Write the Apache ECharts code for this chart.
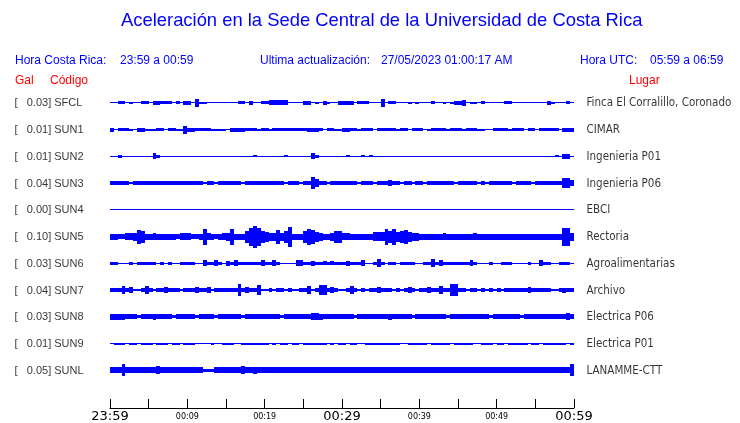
<!DOCTYPE html>
<html>
<head>
<meta charset="utf-8">
<script src="https://cdn.jsdelivr.net/npm/echarts@6/dist/echarts.min.js"></script>
<style>html,body{margin:0;padding:0;background:#fff;}#c{width:740px;height:423px;}</style>
</head>
<body>
<div id="c"></div>
<script>
// ---------------- DATA ----------------
const titleText = 'Aceleración en la Sede Central de la Universidad de Costa Rica';
const horaCR = '23:59 a 00:59';
const horaUTC = '05:59 a 06:59';
const updated = '27/05/2023 01:00:17 AM';

const codes = ['SFCL','SUN1','SUN2','SUN3','SUN4','SUN5','SUN6','SUN7','SUN8','SUN9','SUNL'];
const gals  = [0.03, 0.01, 0.01, 0.04, 0.00, 0.10, 0.03, 0.04, 0.03, 0.01, 0.05];
const places = ['Finca El Corralillo, Coronado','CIMAR','Ingenieria P01','Ingenieria P06','EBCI','Rectoria',
                'Agroalimentarias','Archivo','Electrica P06','Electrica P01','LANAMME-CTT'];

// time axis: minutes since 23:59, ticks every 5 minutes
const tickLabels = ['23:59','','00:09','','00:19','','00:29','','00:39','','00:49','','00:59'];
const bigTickLabels = ['23:59','00:29','00:59'];

// envelope half-amplitude (px) of each trace, in 30-second bins (120 bins = 60 min)
const envSFCL = [0,0,1.5,1.5,0,1,0,0,1.5,1.5, 0,2,2,1.5,1.5,1.5,0,1.5,0,2, 2,0,4,1,1,0,0,0,0,0,
  0,0,0,1.5,1.5,0,2,0,0,1.5, 1.5,2.5,2.5,2.5,2.5,2.5,0,0,0,0, 2,2,0,1,0,2,1,0,0,2,
  2,2,2,0,1.5,1.5,1.5,0,0,0, 4,0,1.5,1.5,0,0,0,1,0,1, 0,0,0,1.5,0,0,1,0,1,2,
  2,3,0,1,1,0,1.5,0,0,0, 0,0,1.5,1.5,0,0,0,0,0,0, 0,0,0,2,1,0,0,0,1.5,0];
const envSUN1 = [2,0,1.5,1.5,1.5,1,0,2,2,1, 1,1,1.5,1.5,0,1.5,1.5,1,1,4, 2,2,1.5,1.5,1.5,1.5,1,1,1,1,
  0,2,2,2,2,1.5,1.5,1.5,1,1.5, 1.5,1,1.5,1.5,1.5,1.5,1.5,1.5,1.5,1.5, 1.5,2,2,2,1.5,0,1.5,1.5,1,1,
  2,2,1.5,1.5,1,1.5,1.5,1.5,0,1.5, 1.5,1.5,1.5,1.5,1,1.5,1.5,0,1.5,1.5, 1.5,0,1,1.5,1.5,1.5,1.5,1,1.5,1.5,
  1.5,1,1.5,1.5,1.5,1,1,0,0,1.5, 1.5,1.5,1.5,1,1.5,1.5,1.5,0,1.5,1.5, 0,1.5,1.5,1.5,1.5,1.5,0,2,2,2];
const envSUN2 = [0,0,1.5,0,0,0,0,0,0,0, 0,3,1.5,0,0,0,0,0,0,0, 0,0,0,0,0,0,0,0,0,0,
  0,0,0,0,0,0,0,1,0,0, 0,0,0,0,0,1,0,0,0,0, 0,0,3,1.5,0,0,0,0,0,0,
  0,1,0,0,0,1,0,1,0,0, 0,0,0,0,0,0,0,0,0,0, 0,0,0,0,0,0,0,0,0,0,
  0,0,0,0,0,0,0,0,0,0, 0,0,0,0,0,0,0,0,0,0, 0,0,0,0,0,1,0,2.5,2.5,0];
const envSUN3 = [1.8,1.8,1.8,1.8,1.8,0.8,1.8,1.8,1.8,1.8, 1.8,1.8,1.8,1.8,1.8,1.8,1.8,1.8,1.8,1.8,
  1.8,1.8,1.8,1.8,0.8,1.8,1.8,0.8,1.8,1.8, 1.8,1.8,1.8,1.8,0.8,1.8,1.8,1.8,1.8,1.8,
  1.8,1.8,1.8,1.8,1.8,0.8,1.8,1.8,1.8,0.8, 1.8,1.8,6,4,1.8,1.8,0.8,1.8,1.8,1.8,
  1.8,1.8,1.8,1.8,0.8,1.8,1.8,1.8,0.8,1.8, 1.8,1.8,3,1.8,1.8,0.8,1.8,1.8,0.8,1.8,
  1.8,0.8,1.8,1.8,1.8,1.8,1.8,1.8,1.8,0.8, 1.8,1.8,1.8,1.8,1.8,0.8,1.8,0.8,1.8,1.8,
  1.8,1.8,1.8,1.8,0.8,1.8,1.8,1.8,1.8,0.8, 1.8,1.8,1.8,1.8,1.8,1.8,1.8,5,5,3];
const envSUN4 = [0,0,0,0,0,0,0,0,0,0, 0,0,0,0,0,0,0,0,0,0, 0,0,0,0,0,0,0,0,0,0,
  0,0,0,0,0,0,0,0,0,0, 0,0,0,0,0,0,0,0,0,0, 0,0,0,0,0,0,0,0,0,0,
  0,0,0,0,0,0,0,0,0,0, 0,0,0,0,0,0,0,0,0,0, 0,0,0,0,0,0,0,0,0,0,
  0,0,0,0,0,0,0,0,0,0, 0,0,0,0,0,0,0,0,0,0, 0,0,0,0,0,0,0,0,0,0];
const envSUN5 = [3,3,2.7,2.7,3.5,3.5,4,7,6,3, 3,3.5,3,3,3,3,3,2.7,3.5,3.5, 3.5,2.7,2.7,3,8,3.5,3,2.7,3,3.5,
  4,8,3,3,3,6,9,11,9,6, 5,4,4,7,4,6,10,3,3,3, 6,8,7,5,4,3,3,4,6,6,
  3.5,3.5,3,3,3,3,3,3,4.5,4.5, 4.5,8,6,8,5,6,7,5,4,4, 2.8,2.8,3,2.8,2.8,2.8,3.5,2.8,2.8,2.8,
  2.8,3,2.8,2.8,3.5,2.8,2.8,2.8,3,2.8, 2.8,2.8,3,2.8,2.8,3,2.8,2.8,3,2.8, 2.8,3,2.8,2.8,3,2.8,3,9,9,4];
const envSUN6 = [1.7,1.7,0.5,0.5,0.5,1.7,0.5,1.7,1.7,1.7, 1.7,1.7,0.5,1.7,0.5,1.7,0.5,0.5,1.7,1.7,
  1.7,1.7,0.5,0.5,3,1.7,1.7,3,1.7,0.5, 2.5,1.7,3,1.7,1.7,1.7,1.7,1.7,1.7,3,
  1.7,1.7,3,1.7,0.5,0.5,0.5,0.5,3,3, 1.7,1.7,2.5,1.7,1.7,2,1.7,2,1.7,1.7,
  1.7,2.5,1.7,1.7,1.7,3,0.5,0.5,1.7,4, 1.7,0.5,1.7,1.7,0.5,1.7,1.7,1.7,1.7,0.5,
  0.5,1.7,1.7,4,1.7,3,1.7,1.7,1.7,1.7, 1.7,1.7,1.7,3,1.7,0.5,0.5,0.5,1.7,0.5,
  0.5,1.7,1.7,1.7,0.5,0.5,0.5,0.5,1.7,0.5, 0.5,3,1.7,1.7,0.5,0.5,1.7,1.7,1.7,0.5];
const envSUN7 = [2,2,2,4,2,3,1.2,1.2,2,4, 2,1.2,2,2,3,2,2,2,1.2,2, 2,2,3,2,2,3,1.2,2,2,2,
  2,2,2,6,2,3,2,2,5,1.2, 1.2,2,1.2,2,2,1.2,2,1.2,1.2,2, 2,4,1.2,2,5,5,2,3,2,1.2,
  1.2,2,4,2,1.2,2,1.2,2,2,3, 2,2,2,1.2,2,1.2,2,3,2,1.2, 2,2,3,2,2,4,2,2,6,6,
  2,2,1.2,2,2,1.2,2,1.2,2,1.2, 2,1.2,2,2,2,2,2,2,3,2, 2,2,2,2,1.2,1.2,2,2.5,2,2];
const envSUN8 = [3,3,3,3,2.3,2.3,2.3,1.5,2.3,2.3, 2.3,3,2.3,2.3,2.3,2.3,1.5,2.3,2.3,2.3,
  2.3,2.3,1.5,2.3,2.3,2.3,2.3,1.5,2.3,2.3, 2.3,2.3,2.3,2.3,1.5,2.3,2.3,2.3,2.3,2.3,
  2.3,2.3,2.3,2.3,1.5,2.3,2.3,2.3,2.3,2.3, 2.3,2.3,3.5,3.5,3,2.3,2.3,2.3,2.3,2.3,
  2.3,2.3,2.3,1.5,2.3,2.3,2.3,2.3,2.3,2.3, 2.3,2.3,3,2.3,2.3,2.3,2.3,2.3,1.5,2.3,
  2.3,2.3,2.3,2.3,2.3,2.3,2.3,1.5,2.3,2.3, 2.3,2.3,2.3,2.3,2.3,2.3,2.3,2.3,1.5,2.3,
  2.3,2.3,2.3,2.3,2.3,2.3,1.5,2.3,2.3,2.3, 2.3,2.3,2.3,2.3,2.3,2.3,2.3,2.3,3.5,2.3];
const envSUN9 = [0.5,1.2,1.2,1.2,0.5,1.2,1.2,0.5,1.2,1.2, 1.2,0.5,1.2,1.2,1.2,0.5,1.2,1.2,0.5,1.2,
  1.2,1.2,0.5,0.5,0.5,0.5,1.2,0.5,0.5,1.2, 1.2,1.2,0.5,0.5,1.2,1.2,1.2,1.2,1.2,1.2,
  1.2,0.5,1.2,0.5,1.2,1.2,0.5,1.2,1.2,0.5, 1.2,1.2,1.2,1.2,1.2,1.2,0.5,1.2,0.5,1.2,
  1.2,0.5,1.2,1.2,0.5,0.5,1.2,1.2,1.2,1.2, 1.2,1.2,1.2,1.2,1.2,0.5,0.5,1.2,1.2,1.2,
  1.2,1.2,0.5,1.2,1.2,1.2,1.2,1.2,0.5,1.2, 1.2,1.2,1.2,1.2,0.5,0.5,1.2,1.2,1.2,0.5,
  1.2,1.2,0.5,1.2,1.2,1.2,1.2,1.2,0.5,1.2, 1.2,0.5,1.2,1.2,1.2,1.2,1.2,1.2,0.5,1.2];
const envSUNL = [2.8,2.8,2.8,6,3,2.8,2.8,2.8,2.8,2.8, 2.8,2.8,4,2.8,2.8,2.8,2.8,2.8,2.8,2.8,
  2.8,2.8,2.8,2.8,1.5,1.5,1.5,2.8,2.8,2.8, 2.8,2.8,2.8,2.8,4,2.8,2.8,3.5,2.8,2.8,
  2.8,2.8,2.8,2.8,2.8,2.8,2.8,2.8,2.8,2.8, 2.8,2.8,2.8,2.8,2.8,2.8,2.8,2.8,2.8,2.8,
  2.8,2.8,2.8,2.8,2.8,2.8,2.8,2.8,2.8,2.8, 2.8,2.8,2.8,2.8,2.8,2.8,2.8,2.8,2.8,2.8,
  2.8,2.8,2.8,2.8,2.8,2.8,2.8,2.8,2.8,2.8, 2.8,2.8,2.8,2.8,2.8,2.8,2.8,2.8,2.8,2.8,
  2.8,2.8,2.8,2.8,2.8,2.8,2.8,2.8,2.8,2.8, 2.8,2.8,2.8,2.8,2.8,3,2.8,2.8,3,6];
const envelopes = [envSFCL, envSUN1, envSUN2, envSUN3, envSUN4, envSUN5, envSUN6, envSUN7, envSUN8, envSUN9, envSUNL];

// ---------------- BUILD ----------------
const BIN = 0.5;           // minutes per bin
const ROW_GAP = 27;        // y units between traces (1 unit = 1 px)
const ROW0 = 12;
const rowBase = i => ROW0 + ROW_GAP * i;

const traceData = [];
envelopes.forEach((env, i) => env.forEach((a, k) => traceData.push([k * BIN, rowBase(i), a])));

const leftLabelData = codes.map((c, i) => [0, rowBase(i), i]);
const rightLabelData = codes.map((c, i) => [60, rowBase(i), i]);

const BLUE = '#0000ff', RED = '#ff0000';
const F = 'Liberation Sans, Arial, sans-serif';
const FR = '"DejaVu Sans Condensed", "Liberation Sans", sans-serif';

const chart = echarts.init(document.getElementById('c'), null, {renderer: 'canvas'});
chart.setOption({
  animation: false,
  backgroundColor: '#fff',
  title: {
    text: titleText, left: 121, top: 12, padding: 0,
    textStyle: {color: BLUE, fontFamily: F, fontSize: 18.4, fontWeight: 'normal'}
  },
  graphic: [
    {type: 'text', left: 15, top: 55, style: {text: 'Hora Costa Rica:', fill: BLUE, font: '12px ' + F}},
    {type: 'text', left: 120, top: 55, style: {text: horaCR, fill: BLUE, font: '12px ' + F}},
    {type: 'text', left: 260, top: 55, style: {text: 'Ultima actualización:', fill: BLUE, font: '12px ' + F}},
    {type: 'text', left: 381, top: 55, style: {text: updated, fill: BLUE, font: '12px ' + F}},
    {type: 'text', left: 580, top: 55, style: {text: 'Hora UTC:', fill: BLUE, font: '12px ' + F}},
    {type: 'text', left: 650, top: 55, style: {text: horaUTC, fill: BLUE, font: '12px ' + F}},
    {type: 'text', left: 15, top: 75, style: {text: 'Gal', fill: RED, font: '12px ' + F}},
    {type: 'text', left: 50, top: 75, style: {text: 'Código', fill: RED, font: '12px ' + F}},
    {type: 'text', left: 629, top: 75, style: {text: 'Lugar', fill: RED, font: '12px ' + F}}
  ],
  grid: {left: 110, right: 166, top: 91, bottom: 12},
  xAxis: {
    type: 'value', min: 0, max: 60, interval: 5,
    axisLine: {show: true, onZero: false, lineStyle: {color: '#000', width: 1}},
    axisTick: {show: true, inside: true, length: 9, lineStyle: {color: '#000'}},
    splitLine: {show: false},
    axisLabel: {
      margin: 2, color: '#000', showMinLabel: true, showMaxLabel: true,
      formatter: v => {
        const s = tickLabels[Math.round(v / 5)] || '';
        if (!s) return '';
        return bigTickLabels.indexOf(s) >= 0 ? '{b|' + s + '}' : '{s|' + s + '}';
      },
      rich: {
        b: {fontFamily: 'DejaVu Sans', fontSize: 13, color: '#000', lineHeight: 13},
        s: {fontFamily: 'DejaVu Sans', fontSize: 8, color: '#000', lineHeight: 13}
      }
    }
  },
  yAxis: {type: 'value', min: 0, max: 320, inverse: true, show: false},
  series: [
    {
      type: 'custom', silent: true, data: traceData,
      renderItem: (params, api) => {
        const t = api.value(0), base = api.value(1), a = api.value(2);
        const p0 = api.coord([t, base]);
        const p1 = api.coord([t + BIN, base]);
        const h = api.size([0, a])[1];
        const x0 = Math.round(p0[0]), x1 = Math.round(p1[0]);
        const hgt = Math.max(1, Math.round(2 * h));
        const top = Math.round(p0[1] - hgt / 2);
        return {type: 'rect', shape: {x: x0, y: top, width: x1 - x0, height: hgt},
                style: {fill: BLUE}};
      }
    },
    {
      type: 'scatter', silent: true, symbolSize: 1, itemStyle: {color: 'transparent'},
      data: leftLabelData,
      label: {
        show: true, position: [-95, 1], align: 'left', verticalAlign: 'middle',
        fontFamily: F, fontSize: 11, color: '#000',
        formatter: p => '[   ' + gals[p.value[2]].toFixed(2) + '] ' + codes[p.value[2]]
      }
    },
    {
      type: 'scatter', silent: true, symbolSize: 1, itemStyle: {color: 'transparent'},
      data: rightLabelData,
      label: {
        show: true, position: [13, 1], align: 'left', verticalAlign: 'middle',
        fontFamily: FR, fontSize: 11.5, color: '#000',
        formatter: p => places[p.value[2]]
      }
    }
  ]
});
</script>
</body>
</html>
